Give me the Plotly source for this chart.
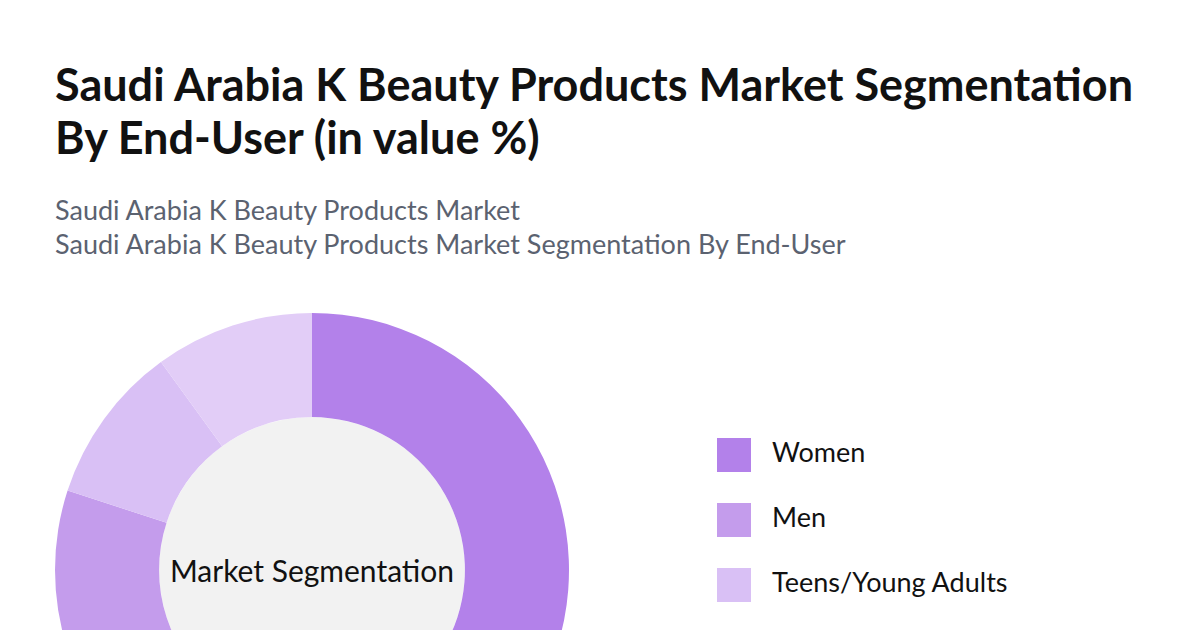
import plotly.graph_objects as go

segments = ["Women", "Men", "Teens/Young Adults", "Others"]
shares = [60, 20, 10, 10]
colors = ["#b381ea", "#c49cec", "#d9c0f5", "#e2cdf7"]

title_lines = ["Saudi Arabia K Beauty Products Market Segmentation", "By End-User (in value %)"]
subtitle_lines = ["Saudi Arabia K Beauty Products Market",
                  "Saudi Arabia K Beauty Products Market Segmentation By End-User"]

# only the first three legend rows fit inside the frame
legend_rows = segments[:3]

W, H = 1200, 900
FONT = "Lato, 'Open Sans', sans-serif"


def py(px):
    # pixel from the top -> paper coordinate
    return 1 - px / H


cx, cy, r_out, hole = 304, 562, 257, 0.595
r_in = r_out * hole

fig = go.Figure()

# grey disc behind the donut hole
fig.add_trace(go.Pie(
    values=[1],
    marker=dict(colors=["#f2f2f2"], line=dict(width=0)),
    textinfo="none",
    hoverinfo="skip",
    showlegend=False,
    domain=dict(x=[(cx - r_in) / W, (cx + r_in) / W], y=[py(cy + r_in), py(cy - r_in)]),
))

fig.add_trace(go.Pie(
    labels=segments,
    values=shares,
    hole=hole,
    sort=False,
    direction="clockwise",
    rotation=0,
    marker=dict(colors=colors, line=dict(width=0)),
    textinfo="none",
    hoverinfo="label+percent",
    showlegend=False,
    title=dict(text="Market Segmentation", position="middle center",
               font=dict(family=FONT, size=30, color="#111111")),
    domain=dict(x=[(cx - r_out) / W, (cx + r_out) / W], y=[py(cy + r_out), py(cy - r_out)]),
))

# legend drawn as a small scatter on its own axes
fig.add_trace(go.Scatter(
    x=[26] * len(legend_rows),
    y=legend_rows,
    mode="markers",
    marker=dict(symbol="square", size=34, color=colors[:len(legend_rows)]),
    cliponaxis=False,
    hoverinfo="skip",
    showlegend=False,
))
fig.add_trace(go.Scatter(
    x=[64] * len(legend_rows),
    y=legend_rows,
    mode="text",
    text=legend_rows,
    textposition="middle right",
    textfont=dict(family=FONT, size=27, color="#111111"),
    cliponaxis=False,
    hoverinfo="skip",
    showlegend=False,
))

fig.update_xaxes(domain=[700 / W, 1], range=[0, 500], visible=False, fixedrange=True)
fig.update_yaxes(domain=[py(674.5), py(414.5)], type="category",
                 categoryorder="array", categoryarray=segments,
                 range=[3.5, -0.5], visible=False, fixedrange=True)

annotations = []
for i, line in enumerate(title_lines):
    annotations.append(dict(text=line, x=45 / W, y=py(47 + 53 * i), xanchor="left", yanchor="top",
                            font=dict(family=FONT, size=45, color="#111111", weight="bold")))
for i, line in enumerate(subtitle_lines):
    annotations.append(dict(text=line, x=45 / W, y=py(183 + 34 * i), xanchor="left", yanchor="top",
                            font=dict(family=FONT, size=27, color="#5b6270")))
for a in annotations:
    a.update(xref="paper", yref="paper", showarrow=False, align="left")

fig.update_layout(
    width=W, height=H,
    margin=dict(l=0, r=0, t=0, b=0),
    paper_bgcolor="white",
    plot_bgcolor="white",
    annotations=annotations,
    font=dict(family=FONT),
)

fig.write_html("out.html")
